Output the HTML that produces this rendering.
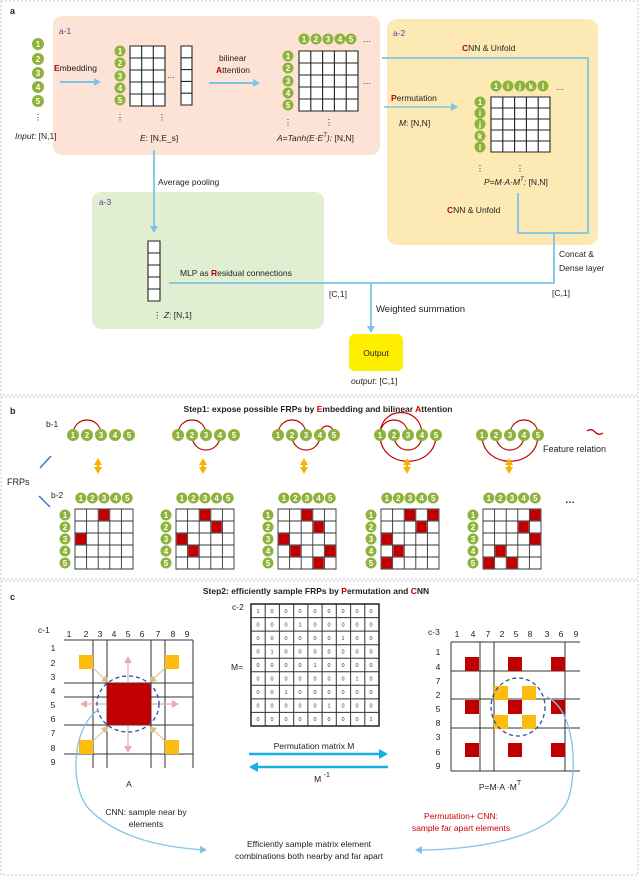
<!DOCTYPE html>
<html><head><meta charset="utf-8"><style>
html,body{margin:0;padding:0;background:#fff}
svg{display:block;font-family:"Liberation Sans",Arial,sans-serif}
.c{fill:#fff;font-weight:bold;text-anchor:middle}
</style></head><body>
<svg width="640" height="876" viewBox="0 0 640 876" xmlns="http://www.w3.org/2000/svg">
<defs>
<marker id="ab" markerWidth="8" markerHeight="8" refX="6" refY="4" orient="auto" markerUnits="userSpaceOnUse"><path d="M0,0 L7,4 L0,8 z" fill="#7ec4e6"/></marker>
<marker id="ab2" markerWidth="10" markerHeight="10" refX="7" refY="5" orient="auto" markerUnits="userSpaceOnUse"><path d="M0,0 L9,5 L0,10 z" fill="#19aee6"/></marker>
<marker id="ap" markerWidth="8" markerHeight="8" refX="6" refY="4" orient="auto" markerUnits="userSpaceOnUse"><path d="M0,0 L7,4 L0,8 z" fill="#f2a8a8"/></marker>
<marker id="at" markerWidth="8" markerHeight="8" refX="6" refY="4" orient="auto" markerUnits="userSpaceOnUse"><path d="M0,0 L7,4 L0,8 z" fill="#d8bf8a"/></marker>
<marker id="ao" markerWidth="8" markerHeight="8" refX="5" refY="4" orient="auto-start-reverse" markerUnits="userSpaceOnUse"><path d="M0,0 L7,4 L0,8 z" fill="#f6b400"/></marker>
<g id="row5">
<circle cx="0" cy="435" r="6" fill="#8db33a"/><circle cx="14" cy="435" r="6" fill="#8db33a"/><circle cx="28" cy="435" r="6" fill="#8db33a"/><circle cx="42" cy="435" r="6" fill="#8db33a"/><circle cx="56" cy="435" r="6" fill="#8db33a"/>
</g>
<g id="bc">
<rect x="0" y="509" width="58" height="60" fill="#fff"/>
<path d="M0,509h58v60h-58z M11.6,509v60 M23.2,509v60 M34.8,509v60 M46.4,509v60 M0,521h58 M0,533h58 M0,545h58 M0,557h58" fill="none" stroke="#333" stroke-width="0.9"/>
<g fill="#8db33a">
<circle cx="5.8" cy="498" r="5.5"/><circle cx="17.4" cy="498" r="5.5"/><circle cx="29" cy="498" r="5.5"/><circle cx="40.6" cy="498" r="5.5"/><circle cx="52.2" cy="498" r="5.5"/>
<circle cx="-10" cy="515" r="5.5"/><circle cx="-10" cy="527" r="5.5"/><circle cx="-10" cy="539" r="5.5"/><circle cx="-10" cy="551" r="5.5"/><circle cx="-10" cy="563" r="5.5"/>
</g>
</g>
</defs>
<!-- frames -->
<rect x="1" y="1" width="637" height="394" fill="none" stroke="#b8c8dc" stroke-dasharray="2,2"/>
<rect x="1" y="397" width="637" height="182" fill="none" stroke="#b8c8dc" stroke-dasharray="2,2"/>
<rect x="1" y="581" width="637" height="294" fill="none" stroke="#b8c8dc" stroke-dasharray="2,2"/>
<!-- panel a boxes -->
<rect x="53" y="16" width="327" height="139" rx="9" fill="#fce3d6"/>
<rect x="387" y="19" width="211" height="226" rx="10" fill="#fde9b3"/>
<rect x="92" y="192" width="232" height="137" rx="9" fill="#e0efd2"/>
<rect x="349" y="334" width="54" height="37" rx="6" fill="#ffee00"/>

<!-- panel a grids -->
<g fill="#fff" stroke="#222" stroke-width="1.1">
<path d="M130,46h35v60h-35z M141.7,46v60 M153.3,46v60 M130,58h35 M130,70h35 M130,82h35 M130,94h35"/>
<path d="M181,46h11v59h-11z M181,57.8h11 M181,69.6h11 M181,81.4h11 M181,93.2h11"/>
<path d="M299,51h59v60h-59z M310.8,51v60 M322.6,51v60 M334.4,51v60 M346.2,51v60 M299,63h59 M299,75h59 M299,87h59 M299,99h59"/>
<path d="M491,97h59v55h-59z M502.8,97v55 M514.6,97v55 M526.4,97v55 M538.2,97v55 M491,108h59 M491,119h59 M491,130h59 M491,141h59"/>
<path d="M148,241h12v60h-12z M148,253h12 M148,265h12 M148,277h12 M148,289h12"/>
</g>
<!-- panel a circles -->
<g fill="#8db33a">
<circle cx="38" cy="44" r="6"/><circle cx="38" cy="59" r="6"/><circle cx="38" cy="73" r="6"/><circle cx="38" cy="87" r="6"/><circle cx="38" cy="101" r="6"/>
<circle cx="120" cy="51" r="5.5"/><circle cx="120" cy="63" r="5.5"/><circle cx="120" cy="76" r="5.5"/><circle cx="120" cy="88" r="5.5"/><circle cx="120" cy="100" r="5.5"/>
<circle cx="304" cy="39" r="5.5"/><circle cx="316" cy="39" r="5.5"/><circle cx="328" cy="39" r="5.5"/><circle cx="340" cy="39" r="5.5"/><circle cx="351" cy="39" r="5.5"/>
<circle cx="288" cy="56" r="5.5"/><circle cx="288" cy="68" r="5.5"/><circle cx="288" cy="81" r="5.5"/><circle cx="288" cy="93" r="5.5"/><circle cx="288" cy="105" r="5.5"/>
<circle cx="496" cy="86" r="5.5"/><circle cx="508" cy="86" r="5.5"/><circle cx="520" cy="86" r="5.5"/><circle cx="531" cy="86" r="5.5"/><circle cx="543" cy="86" r="5.5"/>
<circle cx="480" cy="102" r="5.5"/><circle cx="480" cy="113" r="5.5"/><circle cx="480" cy="124" r="5.5"/><circle cx="480" cy="136" r="5.5"/><circle cx="480" cy="147" r="5.5"/>
</g>
<!-- panel a connectors -->
<g fill="none" stroke="#7ec4e6" stroke-width="1.8">
<line x1="60" y1="82" x2="100" y2="82" stroke-width="2" marker-end="url(#ab)"/>
<line x1="209" y1="83" x2="259" y2="83" stroke-width="2" marker-end="url(#ab)"/>
<line x1="384" y1="107" x2="457" y2="107" stroke-width="1.5" marker-end="url(#ab)"/>
<polyline points="382,58 588,58 588,233 518,233 518,193"/>
<polyline points="554,233 554,283 169,283"/>
<line x1="154" y1="150" x2="154" y2="232" marker-end="url(#ab)"/>
<line x1="371" y1="283" x2="371" y2="332" marker-end="url(#ab)"/>
</g>

<g font-size="8.5" fill="#222">
<text x="10" y="14" font-weight="bold" font-size="9">a</text>
<text x="59" y="34" fill="#7030a0">a-1</text>
<text x="393" y="36" fill="#7030a0">a-2</text>
<text x="99" y="205" fill="#7030a0">a-3</text>
<text x="54" y="71"><tspan fill="#c00000" font-weight="bold">E</tspan>mbedding</text>
<text x="15" y="139"><tspan font-style="italic">Input</tspan>: [N,1]</text>
<text x="140" y="141"><tspan font-style="italic">E</tspan>: [N,E_s]</text>
<text x="219" y="61">bilinear</text>
<text x="216" y="73"><tspan fill="#c00000" font-weight="bold">A</tspan>ttention</text>
<text x="277" y="141" font-style="italic">A=Tanh(E·E<tspan font-size="6" dy="-4">T</tspan><tspan dy="4">): </tspan><tspan font-style="normal">[N,N]</tspan></text>
<text x="462" y="51"><tspan fill="#c00000" font-weight="bold">C</tspan>NN &amp; Unfold</text>
<text x="391" y="101"><tspan fill="#c00000" font-weight="bold">P</tspan>ermutation</text>
<text x="399" y="126"><tspan font-style="italic">M</tspan>: [N,N]</text>
<text x="484" y="185" font-style="italic">P=M·A·M<tspan font-size="6" dy="-4">T</tspan><tspan dy="4">: </tspan><tspan font-style="normal">[N,N]</tspan></text>
<text x="447" y="213"><tspan fill="#c00000" font-weight="bold">C</tspan>NN &amp; Unfold</text>
<text x="158" y="185">Average pooling</text>
<text x="180" y="276">MLP as <tspan fill="#c00000" font-weight="bold">R</tspan>esidual connections</text>
<text x="329" y="297">[C,1]</text>
<text x="552" y="296">[C,1]</text>
<text x="559" y="257">Concat &amp;</text>
<text x="559" y="271">Dense layer</text>
<text x="376" y="312" font-size="9.5">Weighted summation</text>
<text x="376" y="356" text-anchor="middle">Output</text>
<text x="351" y="384"><tspan font-style="italic">output</tspan>: [C,1]</text>
<text x="153" y="318">⋮ <tspan font-style="italic">Z</tspan>: [N,1]</text>
<text x="38 120 162 288 329 480 520" y="120 120 120 125 125 171 171" text-anchor="middle">⋮⋮⋮⋮⋮⋮⋮</text>
<text x="171 367 367 560 560" y="78 42 84 90 130" text-anchor="middle">…………</text>
</g>
<g class="c" font-size="8">
<text x="38 38 38 38 38" y="47 62 76 90 104">12345</text>
<text x="120 120 120 120 120" y="54 66 79 91 103">12345</text>
<text x="304 316 328 340 351" y="42 42 42 42 42">12345</text>
<text x="288 288 288 288 288" y="59 71 84 96 108">12345</text>
<text x="496 508 520 531 543" y="89 89 89 89 89">1ijkl</text>
<text x="480 480 480 480 480" y="105 116 127 139 150">1ijkl</text>
</g>

<!-- panel b -->
<g fill="none" stroke="#c00000" stroke-width="1.2">
<g transform="translate(73,0)"><path d="M0,435 C0,415 28,415 28,435"/></g>
<g transform="translate(178,0)"><path d="M0,435 C0,415 28,415 28,435"/><path d="M14,435 C14,455 42,455 42,435"/></g>
<g transform="translate(278,0)"><path d="M0,435 C0,415 28,415 28,435"/><path d="M14,435 C14,455 42,455 42,435"/><path d="M42,435 C42,423 56,423 56,435"/></g>
<g transform="translate(380,0)"><path d="M0,435 C0,415 28,415 28,435"/><path d="M0,435 C0,405 42,405 42,435"/><path d="M14,435 C14,455 42,455 42,435"/><path d="M0,435 C0,470 56,470 56,435"/></g>
<g transform="translate(482,0)"><path d="M28,435 C28,415 56,415 56,435"/><path d="M14,435 C14,455 42,455 42,435"/><path d="M0,435 C0,470 56,470 56,435"/></g>
<path d="M587,431 q4,-3 8,1 q4,4 8,1" stroke-width="1.3"/>
</g>
<use href="#row5" x="73"/><use href="#row5" x="178"/><use href="#row5" x="278"/><use href="#row5" x="380"/><use href="#row5" x="482"/>
<g stroke="#f6b400" stroke-width="2.5" marker-start="url(#ao)" marker-end="url(#ao)">
<line x1="98" y1="460" x2="98" y2="472"/><line x1="203" y1="460" x2="203" y2="472"/><line x1="304" y1="460" x2="304" y2="472"/><line x1="407" y1="460" x2="407" y2="472"/><line x1="509" y1="460" x2="509" y2="472"/>
</g>
<line x1="40" y1="468" x2="51" y2="456" stroke="#3a78c8" stroke-width="1.5"/>
<line x1="39" y1="496" x2="50" y2="507" stroke="#3a78c8" stroke-width="1.5"/>
<use href="#bc" x="75"/><use href="#bc" x="176"/><use href="#bc" x="278"/><use href="#bc" x="381"/><use href="#bc" x="483"/>
<g fill="#c00000">
<g transform="translate(75,0)"><rect x="23.8" y="509.6" width="10.4" height="10.8"/><rect x="0.6" y="533.6" width="10.4" height="10.8"/></g>
<g transform="translate(176,0)"><rect x="23.8" y="509.6" width="10.4" height="10.8"/><rect x="35.4" y="521.6" width="10.4" height="10.8"/><rect x="0.6" y="533.6" width="10.4" height="10.8"/><rect x="12.2" y="545.6" width="10.4" height="10.8"/></g>
<g transform="translate(278,0)"><rect x="23.8" y="509.6" width="10.4" height="10.8"/><rect x="35.4" y="521.6" width="10.4" height="10.8"/><rect x="0.6" y="533.6" width="10.4" height="10.8"/><rect x="12.2" y="545.6" width="10.4" height="10.8"/><rect x="47" y="545.6" width="10.4" height="10.8"/><rect x="35.4" y="557.6" width="10.4" height="10.8"/></g>
<g transform="translate(381,0)"><rect x="23.8" y="509.6" width="10.4" height="10.8"/><rect x="47" y="509.6" width="10.4" height="10.8"/><rect x="35.4" y="521.6" width="10.4" height="10.8"/><rect x="0.6" y="533.6" width="10.4" height="10.8"/><rect x="12.2" y="545.6" width="10.4" height="10.8"/><rect x="0.6" y="557.6" width="10.4" height="10.8"/></g>
<g transform="translate(483,0)"><rect x="47" y="509.6" width="10.4" height="10.8"/><rect x="35.4" y="521.6" width="10.4" height="10.8"/><rect x="47" y="533.6" width="10.4" height="10.8"/><rect x="12.2" y="545.6" width="10.4" height="10.8"/><rect x="0.6" y="557.6" width="10.4" height="10.8"/><rect x="23.8" y="557.6" width="10.4" height="10.8"/></g>
</g>
<g font-size="8.5" fill="#222">
<text x="10" y="414" font-weight="bold" font-size="9">b</text>
<text x="318" y="412" text-anchor="middle" font-weight="bold">Step1: expose possible FRPs by <tspan fill="#c00000">E</tspan>mbedding and bilinear <tspan fill="#c00000">A</tspan>ttention</text>
<text x="46" y="427">b-1</text>
<text x="51" y="498">b-2</text>
<text x="7" y="485" font-size="9">FRPs</text>
<text x="543" y="452" font-size="9">Feature  relation</text>
<text x="565" y="503" font-size="10" font-weight="bold">…</text>
</g>
<g class="c" font-size="8">
<text x="73 87 101 115 129" y="438 438 438 438 438">12345</text>
<text x="178 192 206 220 234" y="438 438 438 438 438">12345</text>
<text x="278 292 306 320 334" y="438 438 438 438 438">12345</text>
<text x="380 394 408 422 436" y="438 438 438 438 438">12345</text>
<text x="482 496 510 524 538" y="438 438 438 438 438">12345</text>
<text x="80.8 92.4 104 115.6 127.2" y="501 501 501 501 501">12345</text>
<text x="181.8 193.4 205 216.6 228.2" y="501 501 501 501 501">12345</text>
<text x="283.8 295.4 307 318.6 330.2" y="501 501 501 501 501">12345</text>
<text x="386.8 398.4 410 421.6 433.2" y="501 501 501 501 501">12345</text>
<text x="488.8 500.4 512 523.6 535.2" y="501 501 501 501 501">12345</text>
<text x="65 65 65 65 65" y="518 530 542 554 566">12345</text>
<text x="166 166 166 166 166" y="518 530 542 554 566">12345</text>
<text x="268 268 268 268 268" y="518 530 542 554 566">12345</text>
<text x="371 371 371 371 371" y="518 530 542 554 566">12345</text>
<text x="473 473 473 473 473" y="518 530 542 554 566">12345</text>
</g>

<!-- panel c-1 -->
<path d="M64,640H193 M64,683H193 M64,697H193 M64,725H193 M64,754H193 M93,640V768 M107,640V768 M151,640V768 M165,640V768 M193,640V768" stroke="#333" stroke-width="1" fill="none"/>
<rect x="107" y="683" width="44" height="42" fill="#c00000"/>
<g fill="#fdbd10"><rect x="79" y="655" width="14" height="14"/><rect x="165" y="655" width="14" height="14"/><rect x="79" y="740" width="14" height="14"/><rect x="165" y="740" width="14" height="14"/></g>
<g stroke="#f2a8a8" stroke-width="1.2" marker-end="url(#ap)">
<line x1="128" y1="682" x2="128" y2="657"/><line x1="128" y1="726" x2="128" y2="752"/><line x1="106" y1="704" x2="81" y2="704"/><line x1="152" y1="704" x2="178" y2="704"/>
</g>
<g stroke="#d8bf8a" stroke-width="1" marker-end="url(#at)">
<line x1="93" y1="668" x2="108" y2="682"/><line x1="165" y1="668" x2="150" y2="682"/><line x1="93" y1="741" x2="108" y2="727"/><line x1="165" y1="741" x2="150" y2="727"/>
</g>
<ellipse cx="128" cy="704" rx="31" ry="28" fill="none" stroke="#2f4f9a" stroke-width="1.3" stroke-dasharray="4,3"/>
<!-- c-2 -->
<path d="M251,604h128v122h-128z M265.2,604v122 M279.4,604v122 M293.7,604v122 M307.9,604v122 M322.1,604v122 M336.3,604v122 M350.6,604v122 M364.8,604v122 M251,617.6h128 M251,631.1h128 M251,644.7h128 M251,658.2h128 M251,671.8h128 M251,685.3h128 M251,698.9h128 M251,712.4h128" fill="#fff" stroke="#333" stroke-width="1"/>
<rect x="251" y="604" width="128" height="122" fill="none" stroke="#222" stroke-width="1.5"/>
<line x1="249" y1="754" x2="386" y2="754" stroke="#19aee6" stroke-width="2.5" marker-end="url(#ab2)"/>
<line x1="388" y1="767" x2="251" y2="767" stroke="#19aee6" stroke-width="2.5" marker-end="url(#ab2)"/>
<!-- c-3 -->
<path d="M451,642H580 M451,671H580 M451,699H580 M451,728H580 M451,771H580 M451,642V771 M480,642V771 M494,642V771 M565,642V771" stroke="#333" stroke-width="1" fill="none"/>
<g fill="#c00000">
<rect x="465" y="657" width="14" height="14"/><rect x="508" y="657" width="14" height="14"/><rect x="551" y="657" width="14" height="14"/>
<rect x="465" y="700" width="14" height="14"/><rect x="508" y="700" width="14" height="14"/><rect x="551" y="700" width="14" height="14"/>
<rect x="465" y="743" width="14" height="14"/><rect x="508" y="743" width="14" height="14"/><rect x="551" y="743" width="14" height="14"/>
</g>
<g fill="#fdbd10"><rect x="494" y="686" width="14" height="14"/><rect x="522" y="686" width="14" height="14"/><rect x="494" y="715" width="14" height="14"/><rect x="522" y="715" width="14" height="14"/></g>
<ellipse cx="518" cy="707" rx="27" ry="29" fill="none" stroke="#2f4f9a" stroke-width="1.3" stroke-dasharray="4,3"/>
<path d="M98,710 C70,730 70,790 90,810 C120,840 170,848 206,850" fill="none" stroke="#7ec4e6" stroke-width="1.3" marker-end="url(#ab)"/>
<path d="M547,697 C575,710 578,770 568,800 C550,840 470,850 416,850" fill="none" stroke="#7ec4e6" stroke-width="1.3" marker-end="url(#ab)"/>

<g font-size="8.5" fill="#222">
<text x="10" y="600" font-weight="bold" font-size="9">c</text>
<text x="316" y="594" text-anchor="middle" font-weight="bold">Step2: efficiently sample FRPs by <tspan fill="#c00000">P</tspan>ermutation and <tspan fill="#c00000">C</tspan>NN</text>
<text x="38" y="633">c-1</text>
<text x="232" y="610">c-2</text>
<text x="428" y="635">c-3</text>
<text x="231" y="670">M=</text>
<text x="69 86 100 114 128 142 158 173 187" y="637" text-anchor="middle">123456789</text>
<text x="53 53 53 53 53 53 53 53 53" y="651 666 680 694 708 722 736 751 765" text-anchor="middle">123456789</text>
<text x="457 473 488 502 516 530 547 561 576" y="637" text-anchor="middle">147258369</text>
<text x="438 438 438 438 438 438 438 438 438" y="655 670 684 698 712 726 740 755 769" text-anchor="middle">147258369</text>
<text x="129" y="787" text-anchor="middle">A</text>
<text x="500" y="790" text-anchor="middle">P=M·A ·M<tspan font-size="7" dy="-5">T</tspan></text>
<text x="314" y="749" text-anchor="middle">Permutation matrix M</text>
<text x="322" y="782" text-anchor="middle">M <tspan font-size="7" dy="-5">-1</tspan></text>
<text x="146" y="815" text-anchor="middle">CNN: sample near by</text>
<text x="146" y="827" text-anchor="middle">elements</text>
<text x="461" y="819" text-anchor="middle" fill="#d00000">Permutation+ CNN:</text>
<text x="461" y="831" text-anchor="middle" fill="#d00000">sample far apart elements</text>
<text x="309" y="847" text-anchor="middle">Efficiently sample matrix element</text>
<text x="309" y="859" text-anchor="middle">combinations both nearby and far apart</text>
</g>
<g font-size="5.5" fill="#333" text-anchor="middle">
<text x="258 272 286 300 315 329 343 357 371" y="613">100000000</text>
<text x="258 272 286 300 315 329 343 357 371" y="626.5">000100000</text>
<text x="258 272 286 300 315 329 343 357 371" y="640">000000100</text>
<text x="258 272 286 300 315 329 343 357 371" y="653.5">010000000</text>
<text x="258 272 286 300 315 329 343 357 371" y="667">000010000</text>
<text x="258 272 286 300 315 329 343 357 371" y="680.5">000000010</text>
<text x="258 272 286 300 315 329 343 357 371" y="694">001000000</text>
<text x="258 272 286 300 315 329 343 357 371" y="707.5">000001000</text>
<text x="258 272 286 300 315 329 343 357 371" y="721">000000001</text>
</g>
</svg>
</body></html>
